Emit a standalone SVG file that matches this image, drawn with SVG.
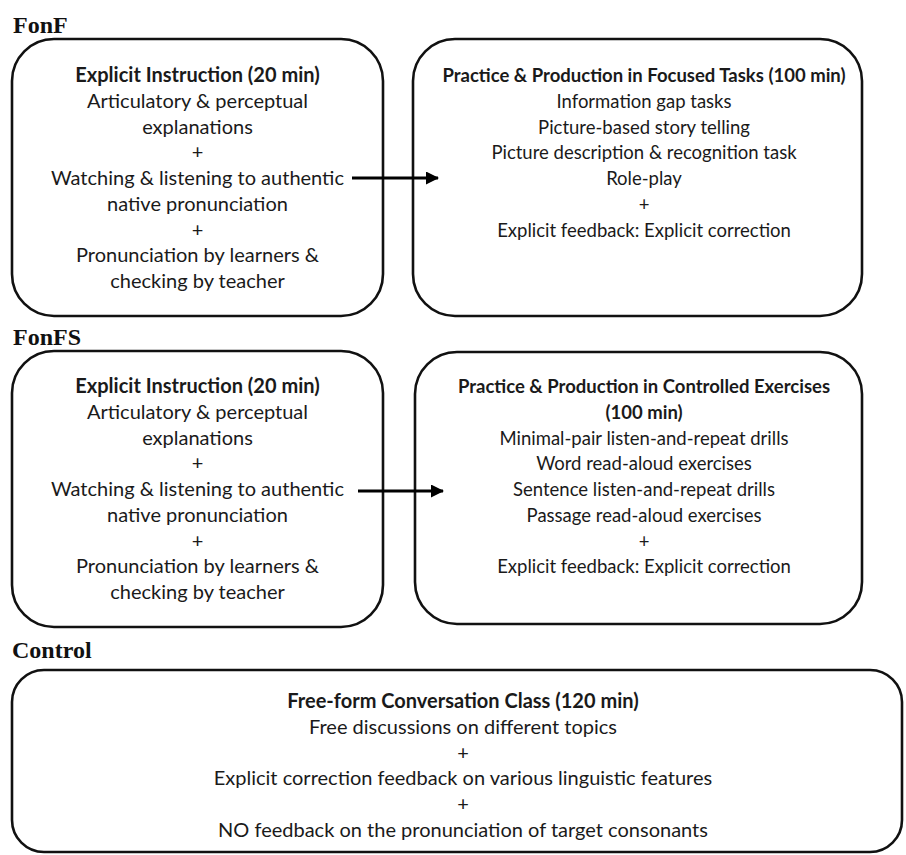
<svg xmlns="http://www.w3.org/2000/svg" width="906" height="855" viewBox="0 0 906 855">
<style>
.bg{fill:#ffffff}
.box{fill:#ffffff;stroke:#111111;stroke-width:2.6}
.sec{font-family:"Liberation Serif","Times New Roman",serif;font-weight:bold;font-size:24px;fill:#111111}
.t{font-family:Lato,"Liberation Sans",Arial,sans-serif;font-size:20px;fill:#1a1a1a;text-anchor:middle}
.r{font-size:18.5px}
.b{font-weight:bold}
.arrow{stroke:#000000;stroke-width:3;fill:none}
</style>
<defs>
<marker id="ah" markerWidth="13" markerHeight="13" refX="12" refY="6.5" orient="auto" markerUnits="userSpaceOnUse">
<path d="M0,0 L13,6.5 L0,13 Z" fill="#000000"/>
</marker>
</defs>
<rect class="bg" x="0" y="0" width="906" height="855"/>

<text class="sec" x="13" y="33">FonF</text>
<text class="sec" x="13" y="345">FonFS</text>
<text class="sec" x="12" y="658">Control</text>

<g id="fonf-instruction">
<rect class="box" x="12" y="39" width="371" height="277" rx="42" ry="42"/>
<text class="t b" x="197.5" y="82">Explicit Instruction (20 min)</text>
<text class="t" x="197.5" y="107.75">Articulatory &amp; perceptual</text>
<text class="t" x="197.5" y="133.5">explanations</text>
<text class="t" x="197.5" y="159.25">+</text>
<text class="t" x="197.5" y="185">Watching &amp; listening to authentic</text>
<text class="t" x="197.5" y="210.75">native pronunciation</text>
<text class="t" x="197.5" y="236.5">+</text>
<text class="t" x="197.5" y="262.25">Pronunciation by learners &amp;</text>
<text class="t" x="197.5" y="288">checking by teacher</text>
</g>

<g id="fonf-practice">
<rect class="box" x="413" y="39" width="449" height="277" rx="42" ry="42"/>
<text class="t r b" x="644" y="82">Practice &amp; Production in Focused Tasks (100 min)</text>
<text class="t r" x="644" y="107.75">Information gap tasks</text>
<text class="t r" x="644" y="133.5">Picture-based story telling</text>
<text class="t r" x="644" y="159.25">Picture description &amp; recognition task</text>
<text class="t r" x="644" y="185">Role-play</text>
<text class="t r" x="644" y="210.75">+</text>
<text class="t r" x="644" y="236.5">Explicit feedback: Explicit correction</text>
</g>

<g id="fonfs-instruction">
<rect class="box" x="12" y="351" width="371" height="276" rx="42" ry="42"/>
<text class="t b" x="197.5" y="393">Explicit Instruction (20 min)</text>
<text class="t" x="197.5" y="418.75">Articulatory &amp; perceptual</text>
<text class="t" x="197.5" y="444.5">explanations</text>
<text class="t" x="197.5" y="470.25">+</text>
<text class="t" x="197.5" y="496">Watching &amp; listening to authentic</text>
<text class="t" x="197.5" y="521.75">native pronunciation</text>
<text class="t" x="197.5" y="547.5">+</text>
<text class="t" x="197.5" y="573.25">Pronunciation by learners &amp;</text>
<text class="t" x="197.5" y="599">checking by teacher</text>
</g>

<g id="fonfs-practice">
<rect class="box" x="415" y="352" width="447" height="272" rx="42" ry="42"/>
<text class="t r b" x="644" y="393">Practice &amp; Production in Controlled Exercises</text>
<text class="t r b" x="644" y="418.75">(100 min)</text>
<text class="t r" x="644" y="444.5">Minimal-pair listen-and-repeat drills</text>
<text class="t r" x="644" y="470.25">Word read-aloud exercises</text>
<text class="t r" x="644" y="496">Sentence listen-and-repeat drills</text>
<text class="t r" x="644" y="521.75">Passage read-aloud exercises</text>
<text class="t r" x="644" y="547.5">+</text>
<text class="t r" x="644" y="573.25">Explicit feedback: Explicit correction</text>
</g>

<g id="control">
<rect class="box" x="12" y="670" width="890" height="182" rx="32" ry="32"/>
<text class="t b" x="463" y="708">Free-form Conversation Class (120 min)</text>
<text class="t" x="463" y="733.75">Free discussions on different topics</text>
<text class="t" x="463" y="759.5">+</text>
<text class="t" x="463" y="785.25">Explicit correction feedback on various linguistic features</text>
<text class="t" x="463" y="811">+</text>
<text class="t" x="463" y="836.75">NO feedback on the pronunciation of target consonants</text>
</g>

<g id="connectors">
<line class="arrow" x1="352" y1="178" x2="438" y2="178" marker-end="url(#ah)"/>
<line class="arrow" x1="358" y1="491" x2="443" y2="491" marker-end="url(#ah)"/>
</g>
</svg>
